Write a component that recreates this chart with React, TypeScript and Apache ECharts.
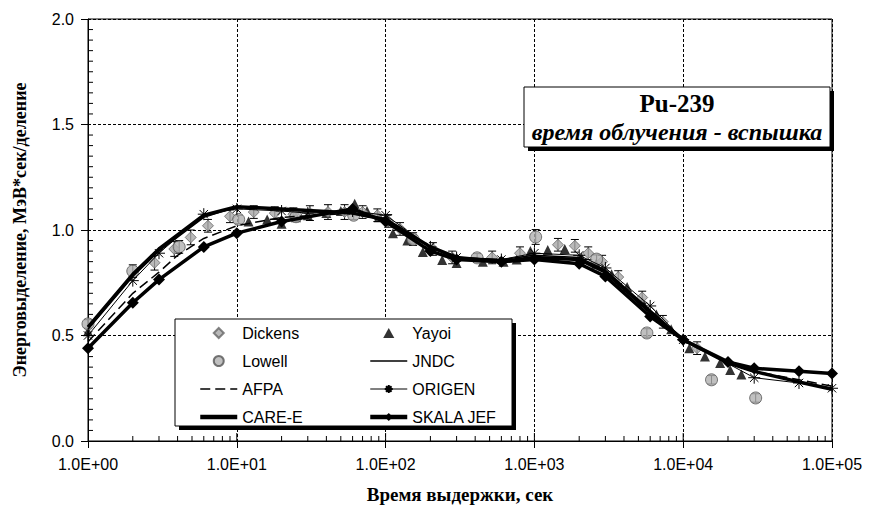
import React, { useEffect, useRef } from 'react';
import * as echarts from 'echarts';

const xTicks = [1, 10, 100, 1000, 10000, 100000];
const yTicks = [0, 0.5, 1.0, 1.5, 2.0];

const dickens: [number, number][] = [
  [2.8, 0.845], [3.8, 0.91], [4.9, 0.965], [6.4, 1.02], [9, 1.065], [13, 1.085], [18, 1.08], [24, 1.075],
  [31, 1.08], [41, 1.085], [53, 1.085], [70, 1.085], [88, 1.07], [104, 1.043], [125, 1.005], [153, 0.957],
  [208, 0.91], [280, 0.87], [520, 0.87], [800, 0.89], [1440, 0.93], [1870, 0.925], [2300, 0.89], [2850, 0.85],
  [3660, 0.777], [5300, 0.68], [7300, 0.565], [12400, 0.44],
];
const dickensErr = [
  0.035, 0.035, 0.035, 0.03, 0.03, 0.03, 0.03, 0.03, 0.035, 0.035, 0.035, 0.03, 0.03, 0.03,
  0.03, 0.03, 0.03, 0.03, 0.03, 0.03, 0.03, 0.03, 0.03, 0.03, 0.03, 0.03, 0.03, 0.03,
];
const lowell: [number, number][] = [
  [1, 0.555], [2, 0.805], [4.1, 0.92], [10.3, 1.05], [25, 1.063], [61, 1.07], [153, 0.956],
  [412, 0.868], [1020, 0.967], [2620, 0.862], [5700, 0.512], [15500, 0.29], [30700, 0.204],
];
const lowellErr = [0.02, 0.03, 0.03, 0.02, 0.02, 0.02, 0.02, 0.02, 0.035, 0.02, 0.02, 0.02, 0.02];
const yayoi: [number, number][] = [
  [1, 0.52], [12, 1.04], [16, 1.05], [20, 1.03], [25, 1.06], [30, 1.07], [40, 1.08], [50, 1.09],
  [62, 1.125], [75, 1.09], [90, 1.06], [112, 0.985], [140, 0.95], [178, 0.896], [240, 0.858],
  [300, 0.844], [450, 0.85], [620, 0.85], [760, 0.86], [940, 0.9], [1230, 0.905], [1600, 0.91],
  [2070, 0.87], [2600, 0.84], [3300, 0.79], [4200, 0.73], [5300, 0.66], [6600, 0.6], [8300, 0.53],
  [11000, 0.44], [14000, 0.4], [17700, 0.37], [20700, 0.336], [24600, 0.315],
];
const jndc: [number, number][] = [
  [1, 0.53], [2, 0.78], [3, 0.9], [6, 1.06], [10, 1.11], [20, 1.1], [60, 1.08], [100, 1.05],
  [200, 0.92], [300, 0.87], [600, 0.86], [1000, 0.88], [2000, 0.87], [3000, 0.81], [6000, 0.62],
  [10000, 0.48], [20000, 0.37], [30000, 0.33], [60000, 0.28], [100000, 0.25],
];
const afpa: [number, number][] = [
  [1, 0.47], [2, 0.7], [3, 0.8], [4, 0.88], [6, 0.96], [10, 1.02], [20, 1.06], [60, 1.08],
  [100, 1.04], [200, 0.9], [300, 0.86], [600, 0.85], [1000, 0.87], [2000, 0.86], [3000, 0.8],
  [6000, 0.61], [10000, 0.48], [20000, 0.37], [30000, 0.33], [60000, 0.29], [100000, 0.26],
];
const origen: [number, number][] = [
  [1, 0.5], [2, 0.76], [3, 0.89], [6, 1.075], [10, 1.1], [20, 1.09], [30, 1.08], [60, 1.09],
  [100, 1.07], [200, 0.92], [300, 0.87], [600, 0.86], [1000, 0.89], [2000, 0.88], [3000, 0.82],
  [6000, 0.64], [10000, 0.48], [30000, 0.3], [60000, 0.275], [100000, 0.25],
];
const careE: [number, number][] = [
  [1, 0.54], [2, 0.79], [3, 0.91], [6, 1.07], [10, 1.11], [20, 1.1], [60, 1.08], [100, 1.05],
  [200, 0.92], [300, 0.87], [600, 0.85], [1000, 0.87], [2000, 0.86], [3000, 0.8], [6000, 0.61],
  [10000, 0.48], [20000, 0.37], [30000, 0.33], [60000, 0.28], [100000, 0.245],
];
const skalaJef: [number, number][] = [
  [1, 0.44], [2, 0.655], [3, 0.765], [6, 0.92], [10, 0.985], [20, 1.04], [60, 1.1], [100, 1.04],
  [200, 0.9], [300, 0.86], [600, 0.85], [1000, 0.86], [2000, 0.84], [3000, 0.78], [6000, 0.59],
  [10000, 0.48], [20000, 0.375], [30000, 0.345], [60000, 0.33], [100000, 0.32],
];

const noSym = { color: 'rgba(0,0,0,0)', borderWidth: 0 };
const legendLeft = [
  { name: 'Dickens', icon: 'path://M5,0L10,5L5,10L0,5Z' },
  { name: 'Lowell', icon: 'circle' },
  { name: 'AFPA', itemStyle: noSym, lineStyle: { width: 1.5, type: [10, 5] } },
  { name: 'CARE-E', itemStyle: noSym, lineStyle: { width: 4.5 } },
];
const legendRight = [
  { name: 'Yayoi', icon: 'path://M5,0L10,9L0,9Z' },
  { name: 'JNDC', itemStyle: noSym, lineStyle: { width: 1.5 } },
  { name: 'ORIGEN', lineStyle: { width: 1 } },
  { name: 'SKALA JEF', lineStyle: { width: 4.5 } },
];

const ASTERISK = 'path://M5,0L5,10M0,5L10,5M1.5,1.5L8.5,8.5M8.5,1.5L1.5,8.5';

const xMinor: [number, number, number][] = [];
for (let d = 1; d < 100000; d *= 10) {
  for (let m = 2; m <= 9; m++) xMinor.push([d * m, 0, 5]);
  if (d > 1) xMinor.push([d, 0, 8]);
}
const yMinor: [number, number][] = [];
for (let i = 1; i < 40; i++) if (i % 10 !== 0) yMinor.push([1, i * 0.05]);

const fmtX = (v: number) => {
  const e = Math.round(Math.log10(v));
  return '1.0E+' + (e < 10 ? '0' + e : '' + e);
};

const errRender = (params: any, api: any) => {
  const x = api.value(0), y = api.value(1), e = api.value(2);
  const t = api.coord([x, y + e]);
  const b = api.coord([x, y - e]);
  const st = { stroke: '#000', lineWidth: 1 };
  return {
    type: 'group',
    children: [
      { type: 'line', shape: { x1: t[0], y1: t[1], x2: b[0], y2: b[1] }, style: st },
      { type: 'line', shape: { x1: t[0] - 4, y1: t[1], x2: t[0] + 4, y2: t[1] }, style: st },
      { type: 'line', shape: { x1: b[0] - 4, y1: b[1], x2: b[0] + 4, y2: b[1] }, style: st },
    ],
  };
};

export default function App() {
  const ref = useRef<HTMLDivElement>(null);
  useEffect(() => {
    if (!ref.current) return;
    const chart = echarts.init(ref.current, undefined, { renderer: 'svg' });
    const sans = 'Liberation Sans, Arial, sans-serif';
    const serif = 'Liberation Serif, Times New Roman, serif';
    const legendCommon = {
      orient: 'vertical' as const,
      itemWidth: 37,
      itemHeight: 10,
      itemGap: 12,
      z: 5,
      selectedMode: false,
      symbolKeepAspect: true,
      textStyle: { fontFamily: sans, fontSize: 16, color: '#000' },
    };
    chart.setOption({
      animation: false,
      backgroundColor: '#fff',
      grid: { left: 88, top: 19, right: 37, bottom: 70, show: true, borderColor: '#000', borderWidth: 1, backgroundColor: 'transparent' },
      xAxis: {
        type: 'log',
        logBase: 10,
        min: 1,
        max: 100000,
        name: 'Время выдержки, сек',
        nameLocation: 'middle',
        nameGap: 44,
        nameTextStyle: { fontFamily: serif, fontWeight: 'bold', fontSize: 19, color: '#000' },
        axisLine: { lineStyle: { color: '#000', width: 1 } },
        axisTick: { show: true, inside: false, length: 7, lineStyle: { color: '#000' } },
        axisLabel: { fontFamily: sans, fontSize: 16, color: '#000', margin: 15, formatter: fmtX, customValues: xTicks },
        splitLine: { show: true, lineStyle: { color: '#000', type: [3, 2], width: 1 } },
        minorTick: { show: false },
      },
      yAxis: {
        type: 'value',
        min: 0,
        max: 2,
        interval: 0.5,
        name: 'Энерговыделение, МэВ*сек/деление',
        nameLocation: 'middle',
        nameGap: 59,
        nameRotate: 90,
        nameTextStyle: { fontFamily: serif, fontWeight: 'bold', fontSize: 18, color: '#000' },
        axisLine: { show: true, lineStyle: { color: '#000', width: 1 } },
        axisTick: { show: true, inside: false, length: 7, lineStyle: { color: '#000' } },
        axisLabel: { fontFamily: sans, fontSize: 16, color: '#000', margin: 14, formatter: (v: number) => v.toFixed(1), customValues: yTicks },
        splitLine: { show: true, lineStyle: { color: '#000', type: [3, 2], width: 1 } },
      },
      legend: [
        { ...legendCommon, left: 193, top: 320, data: legendLeft },
        { ...legendCommon, left: 363, top: 320, data: legendRight },
      ],
      graphic: [
        { type: 'rect', z: 3, shape: { x: 179, y: 323, width: 337, height: 107 }, style: { fill: '#000' } },
        { type: 'rect', z: 4, shape: { x: 175, y: 319, width: 337, height: 107 }, style: { fill: '#fff', stroke: '#000', lineWidth: 1 } },
        { type: 'rect', z: 3, shape: { x: 528, y: 91, width: 306, height: 60 }, style: { fill: '#000' } },
        { type: 'rect', z: 4, shape: { x: 524, y: 87, width: 306, height: 60 }, style: { fill: '#fff', stroke: '#000', lineWidth: 1 } },
        {
          type: 'text', z: 6, x: 677, y: 103,
          style: { text: 'Pu-239', fontFamily: serif, fontWeight: 'bold', fontSize: 25, fill: '#000', align: 'center', verticalAlign: 'middle' },
        },
        {
          type: 'text', z: 6, x: 677, y: 132,
          style: { text: 'время облучения - вспышка', fontFamily: serif, fontWeight: 'bold', fontStyle: 'italic', fontSize: 24, fill: '#000', align: 'center', verticalAlign: 'middle' },
        },
      ],
      series: [
        {
          type: 'custom', name: 'xminor', silent: true, clip: false, data: xMinor, z: 1,
          renderItem: (p: any, api: any) => {
            const c = api.coord([api.value(0), 0]);
            return { type: 'line', shape: { x1: c[0], y1: c[1], x2: c[0], y2: c[1] - api.value(2) }, style: { stroke: '#000', lineWidth: 1 } };
          },
        },
        {
          type: 'custom', name: 'yminor', silent: true, clip: false, data: yMinor, z: 1,
          renderItem: (p: any, api: any) => {
            const c = api.coord([1, api.value(1)]);
            return { type: 'line', shape: { x1: c[0], y1: c[1], x2: c[0] + 5, y2: c[1] }, style: { stroke: '#000', lineWidth: 1 } };
          },
        },
        { name: 'JNDC', type: 'line', data: jndc, symbol: 'none', lineStyle: { color: '#000', width: 1.5 }, itemStyle: { color: '#000' } },
        { name: 'AFPA', type: 'line', data: afpa, symbol: 'none', lineStyle: { color: '#000', width: 1.5, type: [10, 5] }, itemStyle: { color: '#000' } },
        {
          name: 'ORIGEN', type: 'line', data: origen, symbol: ASTERISK, symbolSize: 12,
          lineStyle: { color: '#000', width: 1 }, itemStyle: { color: 'rgba(0,0,0,0)', borderColor: '#000', borderWidth: 1 },
        },
        { name: 'CARE-E', type: 'line', data: careE, symbol: 'none', lineStyle: { color: '#000', width: 3.5 }, itemStyle: { color: '#000' } },
        {
          name: 'SKALA JEF', type: 'line', data: skalaJef, symbol: 'diamond', symbolSize: 12,
          lineStyle: { color: '#000', width: 3.5 }, itemStyle: { color: '#000' },
        },
        {
          name: 'Yayoi', type: 'scatter', data: yayoi, symbol: 'triangle', symbolSize: 10,
          itemStyle: { color: '#000' },
        },
        {
          type: 'custom', name: 'errD', silent: true, renderItem: errRender,
          data: dickens.map((d, i) => [d[0], d[1], dickensErr[i]]),
        },
        {
          type: 'custom', name: 'errL', silent: true, renderItem: errRender,
          data: lowell.map((d, i) => [d[0], d[1], lowellErr[i]]),
        },
        {
          name: 'Dickens', type: 'scatter', data: dickens, symbol: 'diamond', symbolSize: 11,
          itemStyle: { color: '#a8a8a8', borderColor: '#666', borderWidth: 1 },
        },
        {
          name: 'Lowell', type: 'scatter', data: lowell, symbol: 'circle', symbolSize: 12,
          itemStyle: { color: '#b0b0b0', borderColor: '#555', borderWidth: 1 },
        },
      ],
    });
    return () => chart.dispose();
  }, []);
  return <div ref={ref} style={{ position: 'fixed', left: 0, top: 0, width: 869, height: 511, background: '#fff' }} />;
}
